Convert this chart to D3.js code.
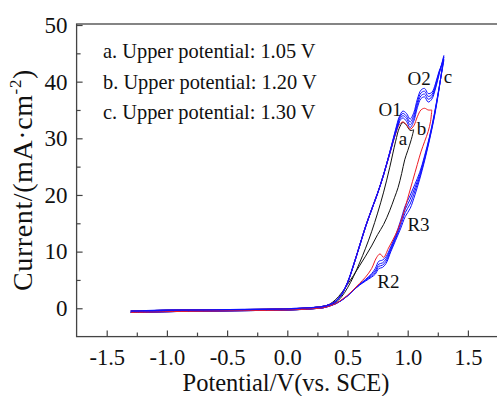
<!DOCTYPE html>
<html>
<head>
<meta charset="utf-8">
<script src="https://cdn.jsdelivr.net/npm/d3@7"></script>
<style>
  body { margin: 0; background: #fff; }
  text { font-family: "Liberation Serif", "Times New Roman", serif; fill: #111; }
</style>
</head>
<body>
<div class="chart"></div>
<script>
var svgWidth = 497;
var svgHeight = 396;

// potential grid of the anodic (forward) sweep, V
var potFwd = [-1.3, -1.0, -0.5, 0.0, 0.2, 0.3, 0.35, 0.4, 0.45, 0.5, 0.55, 0.6, 0.65, 0.7, 0.75, 0.8,
  0.85, 0.9, 0.93, 0.96, 0.99, 1.02, 1.05, 1.08, 1.11, 1.14, 1.17, 1.2, 1.23, 1.26, 1.3];

// curve c (upper potential 1.30 V), four cycles, forward currents
var blueFwd1 = [-0.5, -0.35, -0.25, -0.1, 0.1, 0.35, 0.65, 1.2, 2.4, 4.5, 7.6, 11.0, 14.4, 17.4, 20.3, 23.6,
  27.3, 31.0, 32.9, 33.6, 33.0, 31.9, 33.0, 35.4, 37.0, 37.3, 36.4, 36.9, 38.7, 41.2, 44.6];
var blueFwd2 = [-0.5, -0.35, -0.25, -0.1, 0.1, 0.35, 0.65, 1.2, 2.4, 4.5, 7.6, 11.0, 14.4, 17.4, 20.3, 23.6,
  27.3, 31.2, 33.2, 34.0, 33.5, 32.4, 33.5, 35.9, 37.5, 37.8, 36.9, 37.3, 39.0, 41.4, 44.3];
var blueFwd3 = [-0.5, -0.35, -0.25, -0.1, 0.1, 0.35, 0.65, 1.2, 2.4, 4.5, 7.6, 11.0, 14.4, 17.4, 20.3, 23.6,
  27.4, 31.4, 33.5, 34.4, 33.9, 32.9, 34.0, 36.4, 38.0, 38.3, 37.4, 37.7, 39.3, 41.6, 44.0];
var blueFwd4 = [-0.5, -0.35, -0.25, -0.1, 0.1, 0.35, 0.65, 1.2, 2.4, 4.5, 7.6, 11.0, 14.4, 17.4, 20.3, 23.6,
  27.5, 31.6, 33.8, 34.8, 34.4, 33.4, 34.5, 36.9, 38.5, 38.8, 37.9, 38.1, 39.6, 41.8, 43.7];

// potential grid of the cathodic (reverse) sweep for curve c
var potRevBlue = [1.3, 1.26, 1.22, 1.18, 1.14, 1.1, 1.06, 1.02, 0.98, 0.94, 0.9, 0.86, 0.82, 0.79, 0.76,
  0.73, 0.7, 0.65, 0.6, 0.55, 0.5, 0.45, 0.4, 0.35, 0.3, 0.2, 0.0, -0.5, -1.0, -1.3];
var blueRev1 = [44.6, 38.6, 33.6, 29.6, 26.0, 22.8, 20.0, 17.6, 16.2, 14.0, 12.0, 10.0, 7.9, 7.2, 7.0,
  6.0, 5.5, 4.8, 4.1, 3.2, 2.2, 1.4, 0.8, 0.4, 0.1, -0.1, -0.3, -0.45, -0.6, -0.75];
var blueRev2 = [44.3, 38.7, 33.8, 29.8, 26.3, 23.2, 20.7, 18.4, 16.9, 14.5, 12.3, 10.3, 8.3, 7.6, 7.4,
  6.3, 5.7, 4.9, 4.1, 3.2, 2.2, 1.4, 0.8, 0.4, 0.1, -0.1, -0.3, -0.45, -0.6, -0.75];
var blueRev3 = [44.0, 38.8, 34.0, 30.0, 26.6, 23.6, 21.3, 19.2, 17.5, 15.0, 12.6, 10.6, 8.7, 8.0, 7.8,
  6.6, 5.9, 5.0, 4.2, 3.2, 2.2, 1.4, 0.8, 0.4, 0.1, -0.1, -0.3, -0.45, -0.6, -0.75];
var blueRev4 = [43.7, 38.9, 34.2, 30.2, 26.9, 24.0, 21.9, 19.9, 18.1, 15.4, 12.9, 10.9, 9.1, 8.5, 8.3,
  7.0, 6.1, 5.1, 4.2, 3.2, 2.2, 1.4, 0.8, 0.4, 0.1, -0.1, -0.3, -0.45, -0.6, -0.75];

// curve b (upper potential 1.20 V)
var potFwdRed = [-1.3, -1.0, -0.5, 0.0, 0.2, 0.3, 0.35, 0.4, 0.45, 0.5, 0.55, 0.6, 0.65, 0.7, 0.75, 0.8,
  0.85, 0.9, 0.93, 0.96, 0.99, 1.02, 1.05, 1.08, 1.11, 1.14, 1.17, 1.2];
var redFwd = [-0.5, -0.35, -0.25, -0.1, 0.1, 0.35, 0.65, 1.2, 2.4, 4.5, 7.6, 11.0, 14.4, 17.4, 20.3, 23.6,
  27.2, 30.8, 32.4, 32.9, 32.4, 31.6, 32.2, 33.8, 35.0, 35.3, 35.0, 35.0];
var potRevRed = [1.2, 1.19, 1.17, 1.14, 1.11, 1.08, 1.04, 1.0, 0.96, 0.92, 0.88, 0.84, 0.8, 0.77, 0.74,
  0.7, 0.65, 0.6, 0.55, 0.5, 0.45, 0.4, 0.35, 0.3, 0.2, 0.0, -0.5, -1.0, -1.3];
var redRev = [35.0, 33.0, 31.2, 29.4, 27.6, 25.4, 22.4, 19.4, 16.4, 14.0, 12.2, 10.6, 9.0, 9.6, 8.9,
  7.0, 5.5, 4.4, 3.3, 2.3, 1.5, 0.8, 0.4, 0.1, -0.1, -0.3, -0.45, -0.6, -0.75];

// curve a (upper potential 1.05 V)
var potFwdBlack = [-1.3, -1.0, -0.5, 0.0, 0.2, 0.3, 0.35, 0.4, 0.45, 0.5, 0.55, 0.6, 0.65, 0.7, 0.75, 0.8,
  0.85, 0.9, 0.93, 0.96, 0.99, 1.02, 1.05];
var blackFwd = [-0.5, -0.35, -0.25, -0.1, 0.1, 0.35, 0.6, 1.0, 2.0, 3.6, 5.6, 8.0, 10.6, 13.5, 16.8, 20.5,
  24.8, 29.5, 31.8, 32.8, 32.3, 31.4, 31.5];
var potRevBlack = [1.05, 1.03, 1.0, 0.975, 0.95, 0.92, 0.89, 0.85, 0.8, 0.75, 0.7, 0.65, 0.6, 0.55, 0.5,
  0.45, 0.4, 0.35, 0.3, 0.2, 0.0, -0.5, -1.0, -1.3];
var blackRev = [31.5, 29.8, 27.8, 26.2, 23.8, 21.3, 19.5, 17.2, 14.8, 13.0, 11.0, 9.2, 7.5, 5.8, 4.2,
  2.7, 1.5, 0.7, 0.25, -0.1, -0.3, -0.45, -0.6, -0.75];

var xTicks = [-1.5, -1.0, -0.5, 0.0, 0.5, 1.0, 1.5];
var yTicks = [0, 10, 20, 30, 40, 50];
var legendLines = ["a. Upper potential: 1.05 V", "b. Upper potential: 1.20 V", "c. Upper potential: 1.30 V"];
var peakLabels = [
  {t: "O1", x: 0.855, y: 34.0},
  {t: "O2", x: 1.095, y: 39.4},
  {t: "c", x: 1.335, y: 39.8},
  {t: "a", x: 0.96, y: 28.8},
  {t: "b", x: 1.115, y: 30.6},
  {t: "R3", x: 1.09, y: 13.7},
  {t: "R2", x: 0.84, y: 3.6}
];

var margin = {top: 25, right: -1, bottom: 59.4, left: 76.6};

var svg = d3.select(".chart")
  .append("svg")
  .attr("width", svgWidth)
  .attr("height", svgHeight);

var x = d3.scaleLinear().domain([-1.75, 1.75]).range([margin.left, svgWidth - margin.right]);
var y = d3.scaleLinear().domain([-5, 50]).range([svgHeight - margin.bottom, margin.top]);

function toPts(potA, curA, potB, curB) {
  var pts = potA.map((p, i) => [p, curA[i]]);
  return pts.concat(potB.map((p, i) => [p, curB[i]]));
}

var line = d3.line()
  .x(d => x(d[0]))
  .y(d => y(d[1]))
  .curve(d3.curveCatmullRom.alpha(0.5));

var curves = [
  {pts: toPts(potFwdBlack, blackFwd, potRevBlack, blackRev), color: "#111"},
  {pts: toPts(potFwd, blueFwd1, potRevBlue, blueRev1), color: "#1010ff"},
  {pts: toPts(potFwd, blueFwd2, potRevBlue, blueRev2), color: "#1010ff"},
  {pts: toPts(potFwd, blueFwd3, potRevBlue, blueRev3), color: "#1010ff"},
  {pts: toPts(potFwd, blueFwd4, potRevBlue, blueRev4), color: "#1010ff"},
  {pts: toPts(potFwdRed, redFwd, potRevRed, redRev), color: "#ee1c25"}
];

svg.append("g").selectAll("path")
  .data(curves)
  .enter()
  .append("path")
  .attr("d", d => line(d.pts))
  .attr("fill", "none")
  .attr("stroke", d => d.color)
  .attr("stroke-width", 1);

// the blue forward sweeps are drawn again on top of the red one
svg.append("path")
  .attr("d", line(potFwd.slice(0, 19).map((p, i) => [p, blueFwd1[i]])))
  .attr("fill", "none")
  .attr("stroke", "#1010ff")
  .attr("stroke-width", 1.3);

// frame
svg.append("rect")
  .attr("x", x(-1.75))
  .attr("y", y(50) - 1)
  .attr("width", x(1.75) - x(-1.75))
  .attr("height", y(-5) - y(50) + 1)
  .attr("fill", "none")
  .attr("stroke", "#444")
  .attr("stroke-width", 1.3);

// axes, ticks point inward
var xAxis = svg.append("g")
  .attr("transform", `translate(0, ${y(-5)})`)
  .call(d3.axisBottom(x).tickValues(xTicks).tickSizeInner(-6).tickSizeOuter(0).tickPadding(12)
    .tickFormat(d3.format(".1f")));

var xMinor = svg.append("g")
  .attr("transform", `translate(0, ${y(-5)})`)
  .call(d3.axisBottom(x).tickValues([-1.25, -0.75, -0.25, 0.25, 0.75, 1.25]).tickSizeInner(-4).tickSizeOuter(0)
    .tickFormat(""));

var yAxis = svg.append("g")
  .attr("transform", `translate(${x(-1.75)}, 0)`)
  .call(d3.axisLeft(y).tickValues(yTicks).tickSizeInner(-6).tickSizeOuter(0).tickPadding(9));

var yMinor = svg.append("g")
  .attr("transform", `translate(${x(-1.75)}, 0)`)
  .call(d3.axisLeft(y).tickValues([5, 15, 25, 35, 45]).tickSizeInner(-4).tickSizeOuter(0).tickFormat(""));

svg.selectAll(".domain").remove();
svg.selectAll(".tick line").attr("stroke", "#444").attr("stroke-width", 1.2);
svg.selectAll(".tick text")
  .attr("font-size", 23)
  .attr("font-family", "Liberation Serif")
  .attr("fill", "#111");
xAxis.selectAll(".tick text")
  .attr("font-size", 22.5)
  .text(d => d < 0 ? "-" + d3.format(".1f")(-d) : d3.format(".1f")(d));

// axis titles
svg.append("text")
  .attr("x", 286)
  .attr("y", 391)
  .attr("text-anchor", "middle")
  .attr("font-size", 24.5)
  .text("Potential/V(vs. SCE)");

var yTitle = svg.append("text")
  .attr("transform", "translate(32, 180) rotate(-90)")
  .attr("text-anchor", "middle")
  .attr("font-size", 28)
  .attr("letter-spacing", 0.6);
yTitle.append("tspan").text("Current/(mA·cm");
yTitle.append("tspan").attr("dy", -11).attr("font-size", 17).text("-2");
yTitle.append("tspan").attr("dy", 11).text(")");

// legend text
svg.append("g").selectAll("text")
  .data(legendLines)
  .enter()
  .append("text")
  .attr("x", 103)
  .attr("y", (d, i) => 58 + i * 30.5)
  .attr("font-size", 20.4)
  .text(d => d);

// peak labels
svg.append("g").selectAll("text")
  .data(peakLabels)
  .enter()
  .append("text")
  .attr("x", d => x(d.x))
  .attr("y", d => y(d.y))
  .attr("text-anchor", "middle")
  .attr("font-size", 19)
  .text(d => d.t);
</script>
</body>
</html>
